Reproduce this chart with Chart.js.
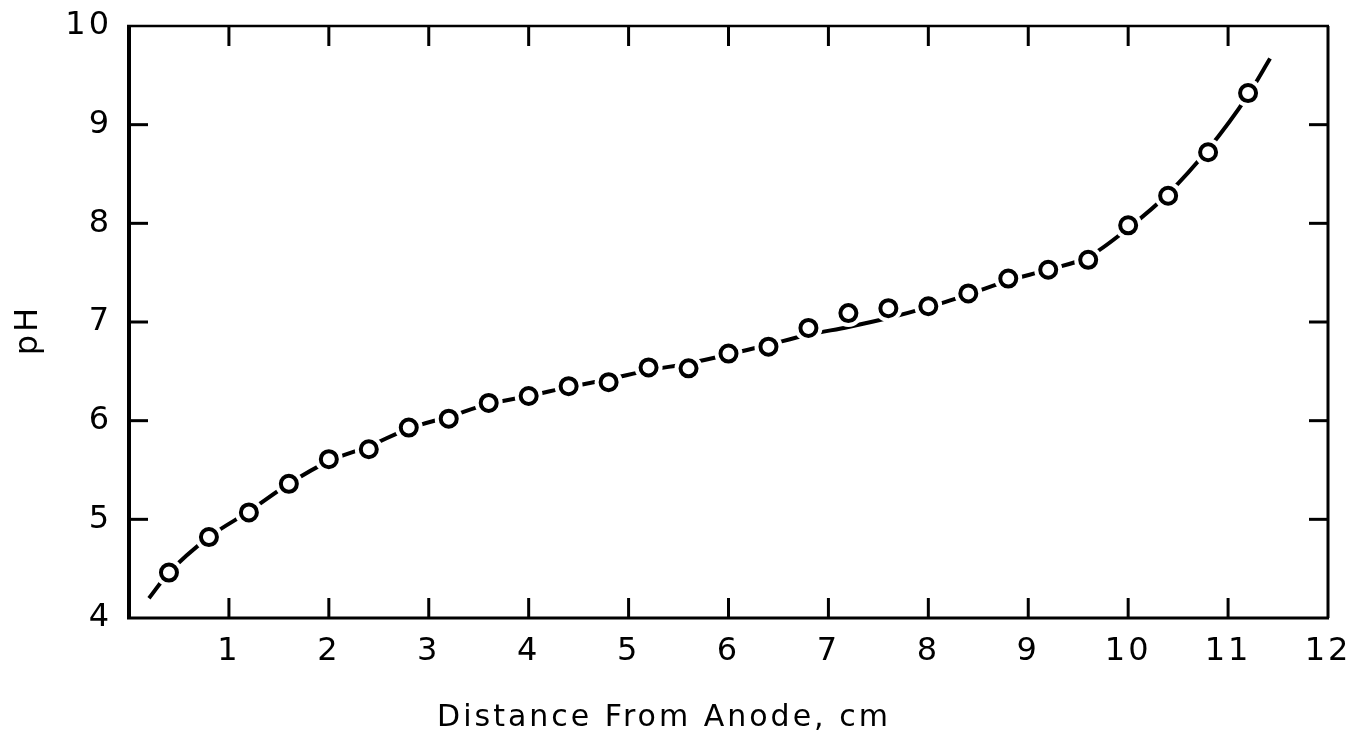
<!DOCTYPE html>
<html>
<head>
<meta charset="utf-8">
<script src="https://cdn.jsdelivr.net/npm/chart.js@4.4.0/dist/chart.umd.min.js"></script>
<style>
  html, body { margin: 0; padding: 0; background: #fff; }
  #wrap { width: 1349px; height: 738px; }
</style>
</head>
<body>
<div id="wrap"><canvas id="chart-ph" width="1349" height="738"></canvas></div>
<script>
// measured points (distance cm / pH)
const distances = [0.4, 0.8, 1.2, 1.6, 2.0, 2.4, 2.8, 3.2, 3.6, 4.0, 4.4, 4.8, 5.2, 5.6,
  6.0, 6.4, 6.8, 7.2, 7.6, 8.0, 8.4, 8.8, 9.2, 9.6, 10.0, 10.4, 10.8, 11.2];
const phValues = [4.46, 4.82, 5.07, 5.36, 5.61, 5.71, 5.93, 6.02, 6.18, 6.25, 6.35, 6.39, 6.54, 6.53,
  6.68, 6.75, 6.94, 7.09, 7.14, 7.16, 7.29, 7.44, 7.53, 7.63, 7.98, 8.28, 8.72, 9.32];

// hand drawn smooth curve
const curveX = [0.2, 0.4, 0.8, 1.2, 1.6, 2.0, 2.4, 2.8, 3.2, 3.6, 4.0, 4.4, 4.8, 5.2, 5.6,
  6.0, 6.4, 6.8, 7.2, 7.6, 8.0, 8.4, 8.8, 9.2, 9.6, 10.0, 10.4, 10.8, 11.2, 11.42];
const curveY = [4.2, 4.46, 4.82, 5.08, 5.36, 5.59, 5.74, 5.92, 6.04, 6.17, 6.25, 6.34, 6.42, 6.51, 6.58,
  6.67, 6.77, 6.87, 6.95, 7.04, 7.15, 7.28, 7.42, 7.53, 7.66, 7.95, 8.3, 8.75, 9.3, 9.67];

const xTicks = [1, 2, 3, 4, 5, 6, 7, 8, 9, 10, 11];
const yTicks = [5, 6, 7, 8, 9];

const xTitle = "Distance From Anode, cm";
const yTitle = "pH";

const FONT = "'DejaVu Sans', sans-serif";

const pts = (xs, ys) => xs.map((x, i) => ({ x, y: ys[i] }));

// lettering in the original is spaced out a bit
const spacing = {
  id: "spacing",
  beforeDraw(chart) { chart.ctx.letterSpacing = "3px"; },
  afterDraw(chart) { chart.ctx.letterSpacing = "0px"; },
};

// frame, inward tick marks and axis titles; tick positions come from the scales
const frameTicks = {
  id: "frameTicks",
  afterDraw(chart) {
    const { ctx, chartArea: a, scales } = chart;
    ctx.save();
    ctx.strokeStyle = "#000";
    ctx.lineCap = "butt";
    // box
    ctx.lineWidth = 4;
    ctx.beginPath(); ctx.moveTo(a.left, a.top - 1); ctx.lineTo(a.left, a.bottom + 1); ctx.stroke();
    ctx.lineWidth = 3;
    ctx.beginPath(); ctx.moveTo(a.left - 2, a.bottom); ctx.lineTo(a.right + 1, a.bottom); ctx.stroke();
    ctx.beginPath(); ctx.moveTo(a.right, a.top); ctx.lineTo(a.right, a.bottom); ctx.stroke();
    ctx.lineWidth = 2.5;
    ctx.beginPath(); ctx.moveTo(a.left - 2, a.top); ctx.lineTo(a.right + 1, a.top); ctx.stroke();

    ctx.lineWidth = 3;
    xTicks.forEach((v) => {
      const px = scales.x.getPixelForValue(v);
      ctx.beginPath(); ctx.moveTo(px, a.bottom); ctx.lineTo(px, a.bottom - 20); ctx.stroke();
      ctx.beginPath(); ctx.moveTo(px, a.top); ctx.lineTo(px, a.top + 20); ctx.stroke();
    });
    yTicks.forEach((v) => {
      const py = scales.y.getPixelForValue(v);
      ctx.beginPath(); ctx.moveTo(a.left, py); ctx.lineTo(a.left + 19, py); ctx.stroke();
      ctx.beginPath(); ctx.moveTo(a.right, py); ctx.lineTo(a.right - 19, py); ctx.stroke();
    });

    // titles
    ctx.fillStyle = "#000";
    ctx.textAlign = "center";
    ctx.textBaseline = "middle";
    ctx.letterSpacing = "3px";
    ctx.font = "30px " + FONT;
    ctx.fillText(xTitle, 664, 718);
    ctx.translate(29, 330);
    ctx.rotate(-Math.PI / 2);
    ctx.font = "32px " + FONT;
    ctx.fillText(yTitle, 0, 0);
    ctx.restore();
  },
};

const noPad = (s) => {
  s.paddingTop = 0;
  s.paddingBottom = 0;
  s.paddingLeft = 0;
  s.paddingRight = 0;
};

const data = {
  datasets: [
    {
      label: "pH",
      data: pts(distances, phValues),
      showLine: false,
      pointStyle: "circle",
      pointRadius: 8,
      pointBorderWidth: 4,
      pointBorderColor: "#000",
      pointBackgroundColor: "#fff",
      order: 1,
    },
    {
      label: "halo",
      data: pts(distances, phValues),
      showLine: false,
      pointRadius: 14,
      pointBorderWidth: 0,
      pointBackgroundColor: "#fff",
      order: 2,
    },
    {
      label: "curve",
      data: pts(curveX, curveY),
      showLine: true,
      borderColor: "#000",
      borderWidth: 4,
      pointRadius: 0,
      cubicInterpolationMode: "monotone",
      fill: false,
      order: 3,
    },
  ],
};

const options = {
  responsive: false,
  animation: false,
  events: [],
  layout: { padding: { top: 26, right: 21, left: 0, bottom: 0 } },
  plugins: { legend: { display: false }, tooltip: { enabled: false } },
  scales: {
    x: {
      type: "linear",
      min: 0,
      max: 12,
      afterFit: (s) => { s.height = 120; noPad(s); },
      grid: { display: false, drawTicks: false },
      border: { display: false },
      ticks: {
        stepSize: 1,
        padding: 14,
        color: "#000",
        font: { family: FONT, size: 32 },
        callback: (v) => (v === 0 ? "" : v),
      },
    },
    y: {
      min: 4,
      max: 10,
      afterFit: (s) => { s.width = 129; noPad(s); },
      grid: { display: false, drawTicks: false },
      border: { display: false },
      ticks: {
        stepSize: 1,
        padding: 17,
        color: "#000",
        font: { family: FONT, size: 32 },
      },
    },
  },
};

new Chart(document.getElementById("chart-ph").getContext("2d"), {
  type: "scatter",
  data,
  options,
  plugins: [spacing, frameTicks],
});
</script>
</body>
</html>
